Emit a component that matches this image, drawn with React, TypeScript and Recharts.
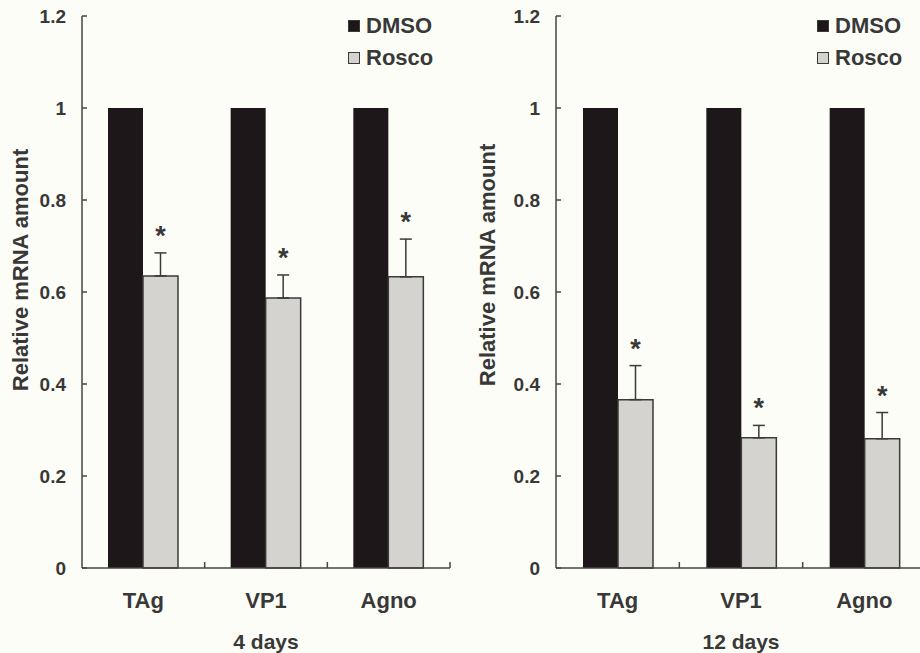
import { Bar, BarChart, ErrorBar, LabelList, Legend, XAxis, YAxis } from 'recharts';

const genes = ['TAg', 'VP1', 'Agno'];
const dmsoValues = [1, 1, 1];
const rosco4d = [0.635, 0.587, 0.633];
const roscoErr4d = [0.05, 0.05, 0.082];
const rosco12d = [0.366, 0.283, 0.281];
const roscoErr12d = [0.074, 0.027, 0.057];
const yTicks = [0, 0.2, 0.4, 0.6, 0.8, 1, 1.2];
const seriesNames = ['DMSO', 'Rosco'];
const panelTitles = ['4 days', '12 days'];
const yTitle = 'Relative mRNA amount';

const FONT = 'Arial, "Liberation Sans", Helvetica, sans-serif';
const INK = '#383838';
const AXIS = '#454545';
const DMSO_FILL = '#1d1719';
const ROSCO_FILL = '#d4d3cf';
const fills = [DMSO_FILL, ROSCO_FILL];

function buildRows(rosco: number[], errs: number[]) {
  return genes.map((gene, i) => ({
    gene,
    dmso: dmsoValues[i],
    rosco: rosco[i],
    err: [0, errs[i]],
  }));
}

function YTick({ x, y, payload }: any) {
  return (
    <g>
      <line x1={x} x2={x + 5} y1={y} y2={y} stroke={AXIS} strokeWidth={1.5} />
      <text x={x - 16} y={y} dy="0.36em" textAnchor="end" fontSize={19} fontWeight="bold" fill={INK} fontFamily={FONT}>
        {payload.value}
      </text>
    </g>
  );
}

function XTick({ x, y, payload }: any) {
  const edge = x + (payload.offset ?? 0);
  return (
    <g>
      <line x1={edge} x2={edge} y1={y} y2={y - 6} stroke={AXIS} strokeWidth={1.5} />
      <text x={x} y={y + 40} textAnchor="middle" fontSize={22} fontWeight="bold" fill={INK} fontFamily={FONT}>
        {payload.value}
      </text>
    </g>
  );
}

function FixedText({ cx, cy, text, rotate, size }: any) {
  return (
    <text
      x={cx}
      y={cy}
      dy="0.35em"
      textAnchor="middle"
      transform={rotate ? `rotate(-90 ${cx} ${cy})` : undefined}
      fontSize={size}
      fontWeight="bold"
      fill={INK}
      fontFamily={FONT}
    >
      {text}
    </text>
  );
}

const starLabel = (errs: number[]) => (props: any) => {
  const { x, y, width, height, index, value } = props;
  const perUnit = height / value;
  const top = y - errs[index] * perUnit;
  return (
    <text x={x + width / 2} y={top - 8} textAnchor="middle" fontSize={27} fontWeight="bold" fill={INK} fontFamily={FONT}>
      *
    </text>
  );
};

function LegendBox() {
  return (
    <div style={{ fontFamily: FONT, fontSize: 22, fontWeight: 'bold', color: INK }}>
      {seriesNames.map((name, i) => (
        <div key={name} style={{ display: 'flex', alignItems: 'center', height: 32 }}>
          <span
            style={{
              width: 12,
              height: 12,
              boxSizing: 'border-box',
              background: fills[i],
              border: '1.5px solid #3a3a3a',
              marginRight: 6,
            }}
          />
          {name}
        </div>
      ))}
    </div>
  );
}

function Panel({ rosco, errs, title, width, marginLeft, marginRight, yLabelX, yLabelY, titleX, legendLeft }: any) {
  const data = buildRows(rosco, errs);
  return (
    <BarChart
      width={width}
      height={653}
      data={data}
      margin={{ top: 16, right: marginRight, left: marginLeft, bottom: 0 }}
      barSize={35}
      barGap={0}
    >
      <XAxis
        dataKey="gene"
        height={85}
        tickLine={false}
        tickSize={0}
        tickMargin={0}
        tick={<XTick />}
        axisLine={{ stroke: AXIS, strokeWidth: 1.5 }}
        label={<FixedText cx={titleX} cy={642} text={title} size={21} />}
      />
      <YAxis
        width={60}
        domain={[0, 1.2]}
        ticks={yTicks}
        interval={0}
        tickLine={false}
        tickSize={0}
        tickMargin={0}
        tick={<YTick />}
        axisLine={{ stroke: AXIS, strokeWidth: 1.5 }}
        label={<FixedText cx={yLabelX} cy={yLabelY} text={yTitle} rotate size={22} />}
      />
      <Legend
        layout="horizontal"
        verticalAlign="middle"
        align="center"
        content={<LegendBox />}
        wrapperStyle={{ left: legendLeft, top: 10, width: 'auto', height: 'auto' }}
      />
      <Bar dataKey="dmso" name={seriesNames[0]} fill={DMSO_FILL} isAnimationActive={false} />
      <Bar dataKey="rosco" name={seriesNames[1]} fill={ROSCO_FILL} stroke="#3a3a3a" strokeWidth={1.5} isAnimationActive={false}>
        <ErrorBar dataKey="err" width={6} stroke="#3a3a3a" strokeWidth={1.5} direction="y" />
        <LabelList dataKey="rosco" content={starLabel(errs)} />
      </Bar>
    </BarChart>
  );
}

export default function App() {
  return (
    <div
      style={{
        position: 'absolute',
        left: 0,
        top: 0,
        width: 920,
        height: 653,
        overflow: 'hidden',
        background: '#fdfdf7',
      }}
    >
      <div style={{ position: 'absolute', left: 0, top: 0 }}>
        <Panel
          rosco={rosco4d}
          errs={roscoErr4d}
          title={panelTitles[0]}
          width={460}
          marginLeft={22}
          marginRight={10}
          yLabelX={20}
          yLabelY={270}
          titleX={266}
          legendLeft={348}
        />
      </div>
      <div style={{ position: 'absolute', left: 460, top: 0 }}>
        <Panel
          rosco={rosco12d}
          errs={roscoErr12d}
          title={panelTitles[1]}
          width={470}
          marginLeft={36}
          marginRight={4}
          yLabelX={27}
          yLabelY={265}
          titleX={281}
          legendLeft={357}
        />
      </div>
    </div>
  );
}
